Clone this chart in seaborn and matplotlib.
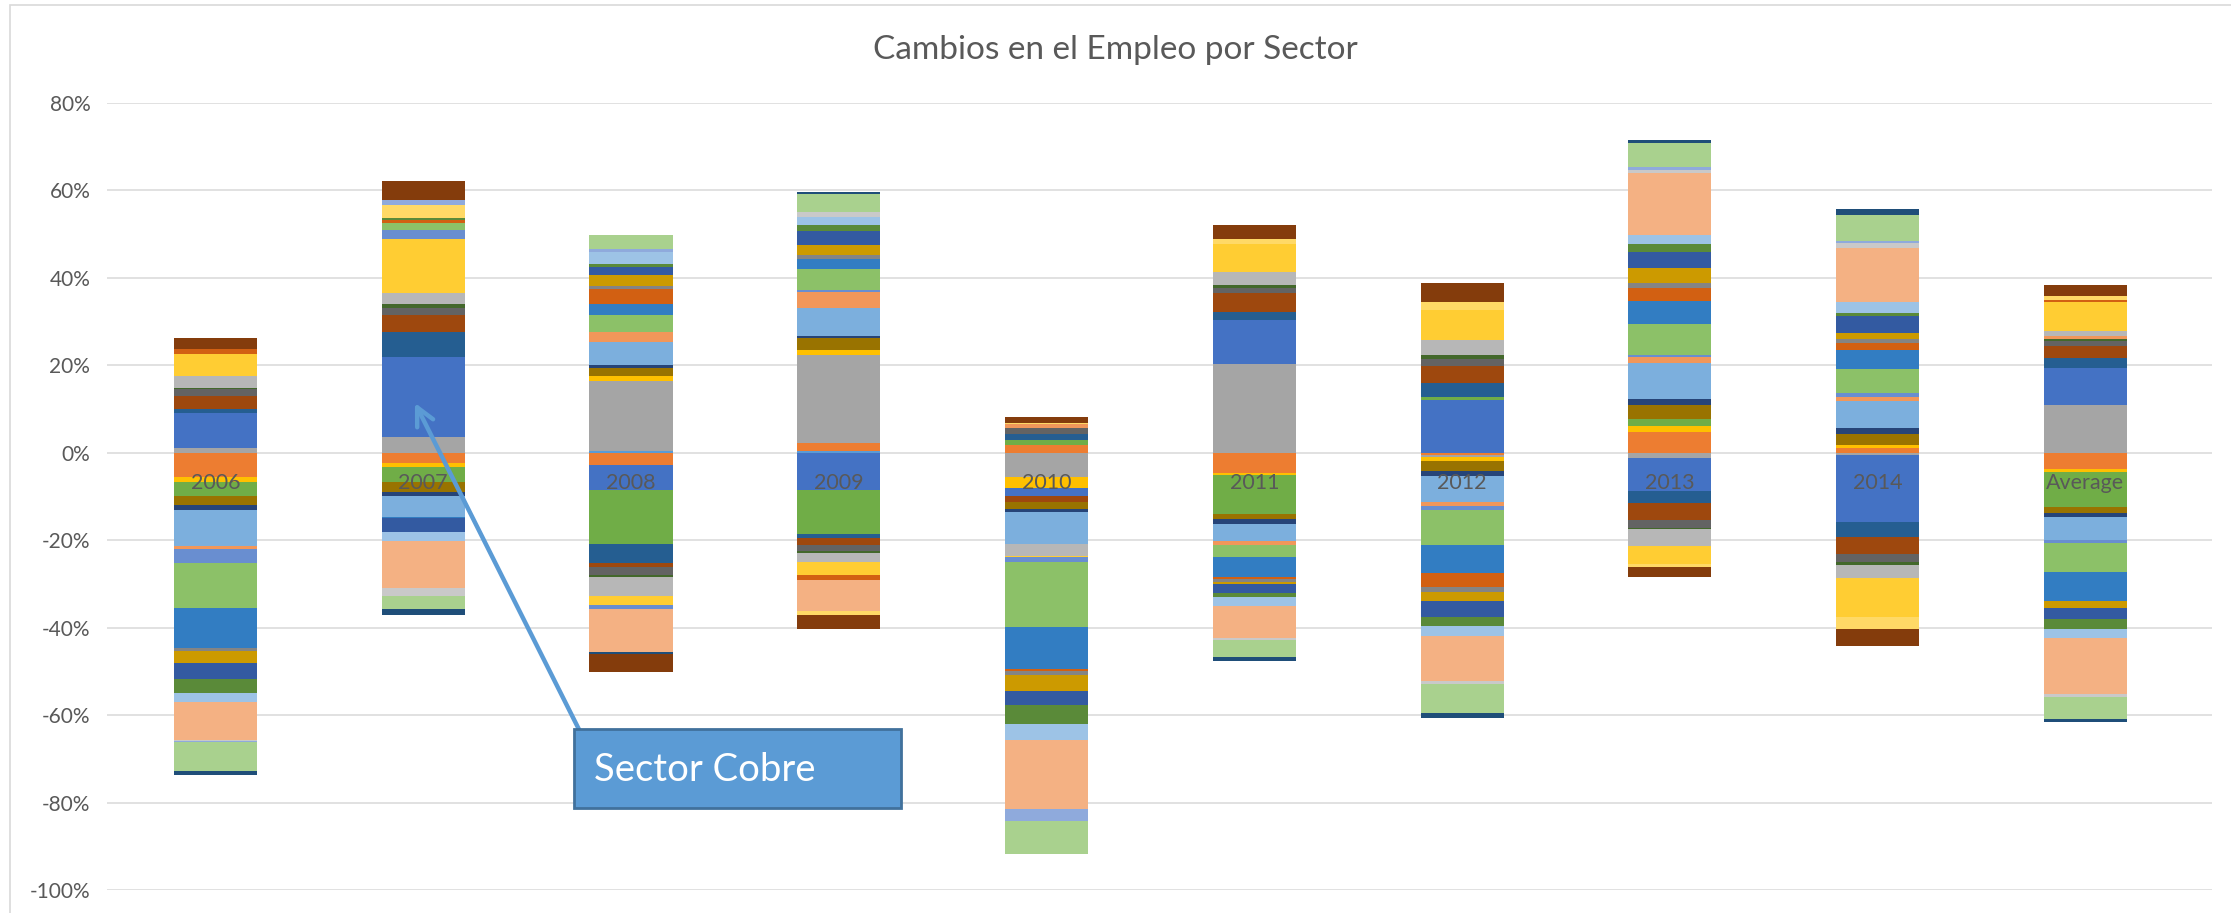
import matplotlib

matplotlib.use("Agg")
import matplotlib.pyplot as plt
import numpy as np
import seaborn as sns
from matplotlib.patches import Rectangle
from matplotlib.ticker import PercentFormatter

years = ["2006", "2007", "2008", "2009", "2010", "2011", "2012", "2013", "2014", "Average"]

# 32 sectors, in stacking order; sector 5 is copper
sectors = [f"Sector {i:02d}" for i in range(1, 33)]
sectors[4] = "Cobre"

colors = [
    "#5B9BD5", "#ED7D31", "#A5A5A5", "#FFC000", "#4472C4", "#70AD47",
    "#255E91", "#9E480E", "#636363", "#997300", "#264478", "#43682B",
    "#7CAFDD", "#F1975A", "#B7B7B7", "#FFCD33", "#698ED0", "#8CC168",
    "#327DC2", "#D26012", "#848484", "#CC9A00", "#335AA1", "#5A8A39",
    "#9DC3E6", "#F4B183", "#C9C9C9", "#FFD966", "#8FAADC", "#A9D18E",
    "#1F4E79", "#843C0C",
]

# employment change (%) per sector, one list per column
v2006 = [0, -5.5, 1.1, -1.1, 7.9, -3.2, 0.9, 3.2, 1.4, -2.2, -1.0, 0.4, -8.3, -0.8, 2.7, 5.1,
         -3.1, -10.2, -9.2, 1.0, -0.7, -2.7, -3.8, -3.2, -2.0, -8.6, -0.3, 0, -0.3, -6.5, -0.9, 2.5]
v2007 = [0, -2.4, 3.7, -0.8, 18.2, -3.4, 5.7, 4.0, 1.5, -2.3, -1.0, 1.0, -4.7, 0, 2.4, 12.4,
         2.1, 1.5, -0.4, 0.8, 0, 0, -3.2, 0.5, -2.0, -10.7, -1.8, 2.9, 1.1, -3.1, -1.3, 4.4]
v2008 = [0.5, -2.8, 16.0, 1.1, -5.7, -12.4, -4.2, -1.1, -1.7, 1.8, 0.6, -0.4, 5.3, 2.3, -4.4, -2.1,
         -0.9, 3.8, 2.7, 3.3, 0.8, 2.5, 1.8, 0.7, 2.7, -9.8, 0, 0, 0.7, 3.3, -0.6, -4.0]
v2009 = [0.5, 1.8, 20.1, 1.1, -8.5, -10.1, -0.8, -1.7, -1.3, 2.7, 0.5, -0.5, 6.5, 3.6, -2.1, -2.9,
         0.5, 4.7, 2.3, -1.1, 0.9, 2.3, 3.3, 1.3, 1.9, -7.3, 1.0, -0.7, 0, 4.1, 0.6, -3.3]
v2010 = [0, 1.8, -5.6, -2.5, -1.8, 1.1, 1.5, -1.3, 1.3, -1.7, -0.6, 0, -7.3, 0.8, -2.8, -0.2,
         -1.1, -14.9, -9.7, -0.4, -1.0, -3.6, -3.1, -4.4, -3.8, -15.6, 0, 0.3, -2.9, -7.4, 0, 1.4]
v2011 = [0, -4.7, 20.2, -0.4, 10.1, -8.8, 2.0, 4.2, 1.1, -1.3, -1.0, 0.7, -4.0, -0.8, 3.1, 6.3,
         0, -2.8, -4.6, -0.4, -0.8, -0.4, -2.1, -0.8, -2.1, -7.3, -0.5, 1.3, 0, -4.0, -0.8, 3.1]
v2012 = [0, -0.5, -0.5, -0.9, 12.1, 0.7, 3.1, 3.9, 1.7, -2.3, -1.0, 0.8, -6.0, -1.0, 3.4, 7.0,
         -1.0, -7.8, -6.5, -3.2, -1.1, -2.0, -3.7, -2.1, -2.4, -10.3, -0.6, 1.8, 0, -6.7, -1.1, 4.4]
v2013 = [0, 4.8, -1.1, 1.4, -7.6, 1.5, -2.7, -4.0, -1.7, 3.3, 1.3, -0.4, 8.2, 1.3, -3.9, -4.1,
         0.5, 7.2, 5.2, 3.1, 1.0, 3.4, 3.8, 1.8, 2.1, 14.0, 0.8, -0.6, 0.6, 5.5, 0.8, -2.3]
v2014 = [0, 1.1, -0.5, 0.6, -15.3, 0, -3.4, -4.0, -1.8, 2.6, 1.4, -0.6, 6.1, 1.0, -3.0, -8.9,
         0.8, 5.5, 4.4, 1.5, 1.0, 1.4, 3.8, 0.8, 2.4, 12.4, 1.1, -2.7, 0.5, 5.9, 1.4, -4.0]
v_avg = [0, -3.7, 11.0, -0.8, 8.4, -8.0, 2.3, 2.7, 1.1, -1.3, -0.9, 0.5, -5.2, 0.8, 1.1, 6.6,
         -0.8, -6.6, -6.7, 0.5, 0, -1.4, -2.6, -2.3, -2.0, -12.9, -0.6, 0.9, 0, -5.0, -0.8, 2.5]

TEXT = "#595959"


def main() -> None:
    values = np.array([v2006, v2007, v2008, v2009, v2010, v2011, v2012, v2013, v2014, v_avg]).T / 100.0

    sns.set_theme(style="white")
    plt.rcParams["font.family"] = ["Lato", "DejaVu Sans"]
    plt.rcParams["axes.unicode_minus"] = False

    W, H = 2231, 913
    fig = plt.figure(figsize=(W / 100, H / 100), dpi=100)
    ax = fig.add_axes([107 / W, 23 / H, 2105 / W, 787 / H])

    # excel-style stacking: positives up from 0, negatives down from 0
    pos_base = np.zeros(len(years))
    neg_base = np.zeros(len(years))
    for name, color, row in zip(sectors, colors, values):
        base = np.where(row >= 0, pos_base, neg_base)
        sns.barplot(
            x=years,
            y=row,
            bottom=base,
            color=color,
            saturation=1,
            width=0.4,
            errorbar=None,
            linewidth=0,
            zorder=2,
            ax=ax,
        )
        pos_base += np.clip(row, 0, None)
        neg_base += np.clip(row, None, 0)

    ax.set_xlim(-0.522, 9.609)
    ax.set_ylim(-1.0, 0.8)
    ax.set_yticks([i / 5 for i in range(-5, 5)])
    ax.yaxis.set_major_formatter(PercentFormatter(1.0, decimals=0))
    ax.tick_params(axis="y", length=0, pad=12, labelsize=15, labelcolor=TEXT)
    ax.set_xticks([])
    ax.set_xlabel("")
    ax.set_ylabel("")
    ax.yaxis.grid(True, color="#D9D9D9", linewidth=1.1)
    ax.set_axisbelow(True)
    for sp in ax.spines.values():
        sp.set_visible(False)

    for i, yr in enumerate(years):
        ax.annotate(yr, xy=(i, 0), xytext=(0, -14.5), textcoords="offset points",
                    ha="center", va="top", fontsize=15.5, color=TEXT, zorder=5)

    fig.text(0.5, 1 - 50 / H, "Cambios en el Empleo por Sector", ha="center", va="center",
             fontsize=24, color=TEXT)

    # callout for the copper sector
    ax.annotate("", xy=(0.96, 0.114), xytext=(1.754, -0.637),
                arrowprops=dict(arrowstyle="->", color="#5B9BD5", lw=3.2,
                                mutation_scale=32, shrinkA=0, shrinkB=0),
                zorder=6)
    ax.add_patch(Rectangle((1.725, -0.813), 1.574, 0.181, facecolor="#5B9BD5",
                           edgecolor="#41719C", linewidth=2, zorder=7))
    ax.text(1.821, -0.726, "Sector Cobre", ha="left", va="center", fontsize=27.5,
            color="white", zorder=8)

    # chart area border
    fig.patches.append(Rectangle((10 / W, -0.01), 1.0, 1.0045, transform=fig.transFigure,
                                 fill=False, edgecolor="#D9D9D9", linewidth=1.2))

    fig.savefig("out.png", dpi=100)
    plt.close(fig)


if __name__ == "__main__":
    main()
